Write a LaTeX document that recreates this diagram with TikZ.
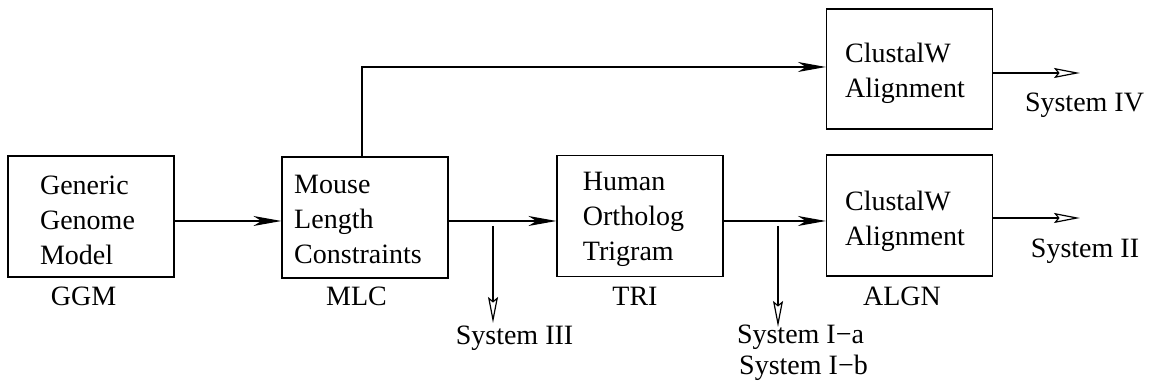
\documentclass[tikz,border=0pt]{standalone}
\usepackage{fontspec}
\setmainfont{Liberation Serif}
\usetikzlibrary{arrows.meta}
\begin{document}
\begin{tikzpicture}[x=0.5pt,y=-0.5pt,
  box/.style={draw, line width=0.6pt, minimum width=83pt, minimum height=60.5pt, inner sep=0pt},
  txt/.style={font=\fontsize{14pt}{17.5pt}\selectfont, inner sep=0pt},
  blk/.style={txt, align=left},
  flow/.style={draw, line width=0.6pt, -{Stealth[length=14pt,width=5pt,inset=4pt]}},
  outp/.style={draw, line width=0.6pt, -{Stealth[open,length=13pt,width=5pt,inset=2pt]}},
]
\useasboundingbox (0,0) rectangle (1149,383);

% processing stages
\node[box] (ggm)  at (91,216.5)  {};
\node[box] (mlc)  at (365,217.5) {};
\node[box] (tri)  at (640,216)   {};
\node[box] (algn) at (909.5,215.5) {};
\node[box, minimum height=60pt] (clw) at (909.5,69) {};

% stage descriptions
\node[blk] (ggmtext)  at (87.5,220) {Generic\\Genome\\Model};
\node[blk] (mlctext)  at (358,219)  {Mouse\\Length\\Constraints};
\node[blk] (tritext)  at (633.5,219.5) {Human\\Ortholog\\Trigram};
\node[blk] (algntext) at (905,221)  {ClustalW\\Alignment};
\node[blk] (clwtext)  at (905,73)   {ClustalW\\Alignment};

% stage abbreviations
\node[txt, anchor=base] (ggmlabel)  at (83.5,306)  {GGM};
\node[txt, anchor=base] (mlclabel)  at (356.5,306) {MLC};
\node[txt, anchor=base] (trilabel)  at (635,306)   {TRI};
\node[txt, anchor=base] (algnlabel) at (902,306)   {ALGN};

% system outputs
\node[txt, anchor=base] (sys4)  at (1084.5,112) {System IV};
\node[txt, anchor=base] (sys2)  at (1085,258)   {System II};
\node[txt, anchor=base] (sys3)  at (514.5,345)  {System III};
\node[txt, anchor=base] (sys1a) at (800.5,344)  {System I−a};
\node[txt, anchor=base] (sys1b) at (803.5,375)  {System I−b};

% main pipeline
\coordinate (row) at (0,221);
\draw[flow] (ggm.east |- row) -- (mlc.west |- row);
\draw[flow] (mlc.east |- row) -- (tri.west |- row);
\draw[flow] (tri.east |- row) -- (algn.west |- row);

% bypass to the upper alignment
\coordinate (bend) at (362,67);
\draw[flow] (mlc.north -| bend) -- (bend) -- (clw.west |- bend);

% taps to the systems
\coordinate (tap3) at (493,226);
\coordinate (tip3) at (493,323);
\draw[outp] (tap3) -- (tip3);
\coordinate (tap1) at (778,226);
\coordinate (tip1) at (778,327);
\draw[outp] (tap1) -- (tip1);

\coordinate (out4) at (1080,73);
\draw[outp] (clw.east |- out4) -- (out4);
\coordinate (out2) at (1080,218);
\draw[outp] (algn.east |- out2) -- (out2);
\end{tikzpicture}
\end{document}
